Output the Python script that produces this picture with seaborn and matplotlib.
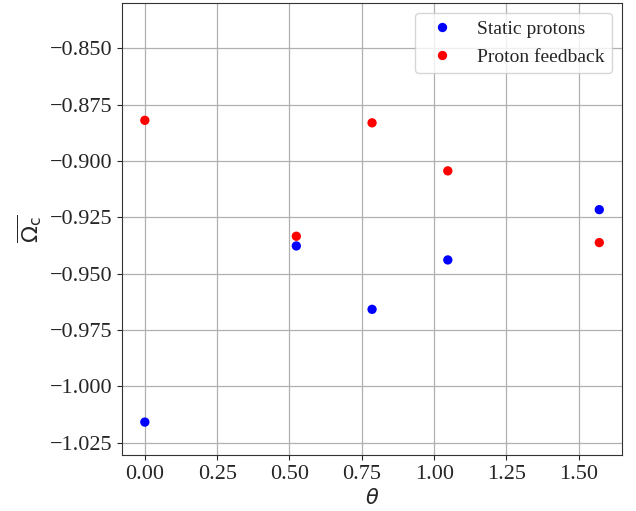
import numpy as np
import pandas as pd
import matplotlib
matplotlib.use("Agg")
import matplotlib.pyplot as plt
import seaborn as sns

theta = [0.0, np.pi / 6, np.pi / 4, np.pi / 3, np.pi / 2]
static_protons = [-1.0158, -0.9377, -0.9658, -0.9439, -0.9216]
proton_feedback = [-0.8820, -0.9334, -0.8831, -0.9044, -0.9362]
series_names = ["Static protons", "Proton feedback"]
series_colors = ["blue", "red"]

df = pd.DataFrame({
    "theta": theta * 2,
    "omega": static_protons + proton_feedback,
    "series": [series_names[0]] * len(theta) + [series_names[1]] * len(theta),
})

sns.set_style("ticks")
plt.rcParams["font.family"] = ["Liberation Serif", "DejaVu Serif"]
plt.rcParams["mathtext.fontset"] = "dejavusans"

fig = plt.figure(figsize=(6.36, 5.11), dpi=100)
ax = fig.add_axes([0.192, 0.110, 0.786, 0.884])
sns.scatterplot(data=df, x="theta", y="omega", hue="series",
                palette=dict(zip(series_names, series_colors)),
                s=45, edgecolor="none", ax=ax, zorder=3)
ax.set_ylim(-1.0303, -0.830)
ax.set_xticks([0, 0.25, 0.5, 0.75, 1.0, 1.25, 1.5])
ax.set_yticks(np.arange(-1.025, -0.849, 0.025))
ax.grid(True, color="#b0b0b0", linewidth=0.9)
ax.set_axisbelow(True)
ax.tick_params(labelsize=16)
ax.set_xlabel(r"$\theta$", fontsize=15)
ax.set_ylabel(r"$\overline{\Omega_\mathrm{c}}$", fontsize=16)
for s in ax.spines.values():
    s.set_color("#333333")
leg = ax.legend(loc="upper right", fontsize=14, title=None, frameon=True)
fig.savefig("out.png", dpi=100)
